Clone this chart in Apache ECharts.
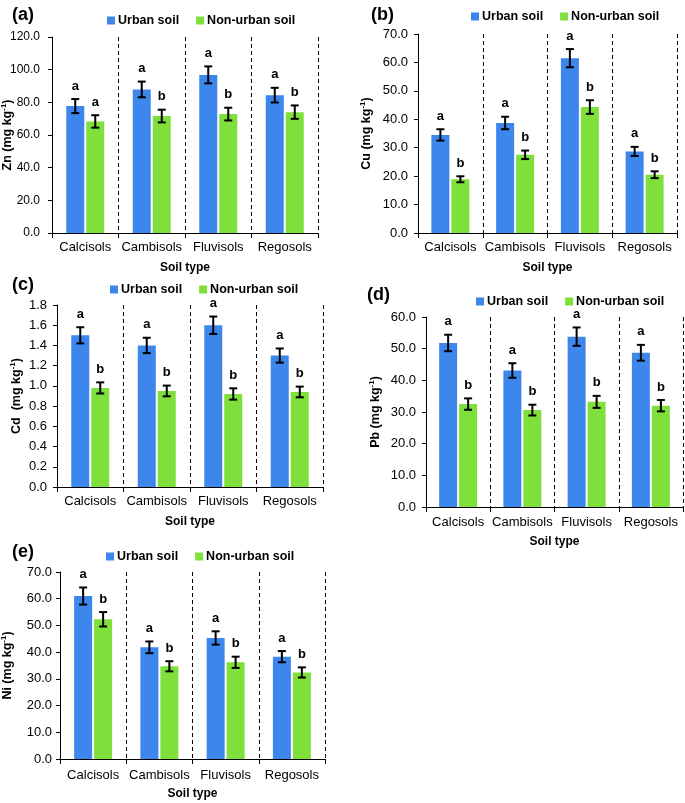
<!DOCTYPE html>
<html>
<head>
<meta charset="utf-8">
<script src="https://cdn.jsdelivr.net/npm/echarts@6/dist/echarts.min.js"></script>
<style>
html,body{margin:0;padding:0;background:#fff;}
#chart{width:685px;height:803px;}
</style>
</head>
<body>
<div id="chart"></div>
<script>
// ---------- data ----------
const categories = ['Calcisols', 'Cambisols', 'Fluvisols', 'Regosols'];
const seriesNames = ['Urban soil', 'Non-urban soil'];

const znUrban = [77.7, 87.9, 96.8, 84.4];
const znUrbanErr = [4.3, 4.8, 5.2, 4.5];
const znNonUrban = [68.3, 71.6, 72.8, 74.0];
const znNonUrbanErr = [3.8, 3.9, 3.9, 4.1];
const znUrbanLetters = ['a', 'a', 'a', 'a'];
const znNonUrbanLetters = ['a', 'b', 'b', 'b'];

const cuUrban = [34.5, 38.7, 61.5, 28.7];
const cuUrbanErr = [2.0, 2.2, 3.2, 1.6];
const cuNonUrban = [18.9, 27.5, 44.3, 20.5];
const cuNonUrbanErr = [1.05, 1.5, 2.4, 1.2];
const cuUrbanLetters = ['a', 'a', 'a', 'a'];
const cuNonUrbanLetters = ['b', 'b', 'b', 'b'];

const cdUrban = [1.50, 1.40, 1.60, 1.30];
const cdUrbanErr = [0.08, 0.076, 0.086, 0.07];
const cdNonUrban = [0.98, 0.95, 0.92, 0.94];
const cdNonUrbanErr = [0.055, 0.053, 0.056, 0.053];
const cdUrbanLetters = ['a', 'a', 'a', 'a'];
const cdNonUrbanLetters = ['b', 'b', 'b', 'b'];

const pbUrban = [51.8, 43.1, 53.8, 48.7];
const pbUrbanErr = [2.6, 2.3, 2.9, 2.5];
const pbNonUrban = [32.5, 30.6, 33.2, 32.0];
const pbNonUrbanErr = [1.8, 1.7, 1.9, 1.8];
const pbUrbanLetters = ['a', 'a', 'a', 'a'];
const pbNonUrbanLetters = ['b', 'b', 'b', 'b'];

const niUrban = [61.0, 41.8, 45.3, 38.3];
const niUrbanErr = [3.2, 2.2, 2.5, 2.1];
const niNonUrban = [52.3, 34.7, 36.2, 32.4];
const niNonUrbanErr = [2.7, 1.9, 2.1, 1.9];
const niUrbanLetters = ['a', 'a', 'a', 'a'];
const niNonUrbanLetters = ['b', 'b', 'b', 'b'];

const panelLabels = ['(a)', '(b)', '(c)', '(d)', '(e)'];
const yNames = ['Zn (mg kg', 'Cu (mg kg', 'Cd  (mg kg', 'Pb (mg kg', 'Ni (mg kg'];
const yMax = [120, 70, 1.8, 60, 70];
const yInterval = [20, 10, 0.2, 10, 10];
const xAxisTitle = 'Soil type';

// ---------- layout ----------
const FONT = '"Liberation Sans", Arial, sans-serif';
const BLUE = '#3D86EC';
const GREEN = '#7FE03B';
const BAR_W = 18;
const BAR_OFF = 10;

const panels = [
  {u: znUrban, ue: znUrbanErr, n: znNonUrban, ne: znNonUrbanErr, ul: znUrbanLetters, nl: znNonUrbanLetters,
   grid: {left: 52, top: 37, width: 266, height: 196}, title: {left: 12, top: 6}, legend: {left: 107, top: 14},
   nameGap: 37, xMargin: 8, yFont: 12, yMargin: 12},
  {u: cuUrban, ue: cuUrbanErr, n: cuNonUrban, ne: cuNonUrbanErr, ul: cuUrbanLetters, nl: cuNonUrbanLetters,
   grid: {left: 418, top: 34, width: 259, height: 199}, title: {left: 371, top: 6}, legend: {left: 471, top: 10},
   nameGap: 44, xMargin: 8, yFont: 13, yMargin: 10},
  {u: cdUrban, ue: cdUrbanErr, n: cdNonUrban, ne: cdNonUrbanErr, ul: cdUrbanLetters, nl: cdNonUrbanLetters,
   grid: {left: 57, top: 305, width: 266, height: 182}, title: {left: 12, top: 276}, legend: {left: 110, top: 283},
   nameGap: 33, xMargin: 8, yFont: 13, yMargin: 10},
  {u: pbUrban, ue: pbUrbanErr, n: pbNonUrban, ne: pbNonUrbanErr, ul: pbUrbanLetters, nl: pbNonUrbanLetters,
   grid: {left: 426, top: 317, width: 257, height: 190}, title: {left: 367, top: 286}, legend: {left: 476, top: 295},
   nameGap: 43, xMargin: 9, yFont: 13, yMargin: 10},
  {u: niUrban, ue: niUrbanErr, n: niNonUrban, ne: niNonUrbanErr, ul: niUrbanLetters, nl: niNonUrbanLetters,
   grid: {left: 60, top: 572, width: 265, height: 187}, title: {left: 12, top: 543}, legend: {left: 106, top: 550},
   nameGap: 45, xMargin: 10, yFont: 13, yMargin: 8}
];

function errRender(offset, letters) {
  return function (params, api) {
    const x = api.value(0), v = api.value(1), e = api.value(2);
    const t = api.coord([x, v + e]);
    const b = api.coord([x, v - e]);
    const cx = t[0] + offset;
    const st = {stroke: '#000', lineWidth: 2};
    return {
      type: 'group',
      children: [
        {type: 'line', shape: {x1: cx, y1: t[1], x2: cx, y2: b[1]}, style: st},
        {type: 'line', shape: {x1: cx - 4, y1: t[1], x2: cx + 4, y2: t[1]}, style: st},
        {type: 'line', shape: {x1: cx - 4, y1: b[1], x2: cx + 4, y2: b[1]}, style: st},
        {type: 'text', x: cx, y: t[1] - 13,
         style: {text: letters[params.dataIndex], fontSize: 13, fontWeight: 'bold', fontFamily: FONT,
                 fill: '#000', align: 'center', verticalAlign: 'middle'}}
      ]
    };
  };
}

const option = {
  animation: false,
  backgroundColor: '#fff',
  textStyle: {fontFamily: FONT},
  title: [], legend: [], grid: [], xAxis: [], yAxis: [], series: []
};

panels.forEach((p, i) => {
  option.title.push({text: panelLabels[i], left: p.title.left, top: p.title.top, padding: 0,
    textStyle: {fontSize: 18, fontWeight: 'bold', color: '#000', fontFamily: FONT}});
  option.legend.push({data: seriesNames, left: p.legend.left, top: p.legend.top, padding: 0,
    icon: 'rect', itemWidth: 8, itemHeight: 8, itemGap: 17,
    textStyle: {fontSize: 12.5, fontWeight: 'bold', color: '#000', fontFamily: FONT, padding: [0, 0, 0, -2]}});
  option.grid.push(Object.assign({containLabel: false, outerBoundsMode: 'none'}, p.grid));
  option.xAxis.push({
    type: 'category', gridIndex: i, data: categories, boundaryGap: true,
    name: xAxisTitle, nameLocation: 'middle', nameGap: 29, nameMoveOverlap: false,
    nameTextStyle: {fontSize: 12, fontWeight: 'bold', color: '#000', fontFamily: FONT},
    axisLine: {lineStyle: {color: '#000', width: 1}},
    axisTick: {show: true, length: 5, lineStyle: {color: '#000'}},
    axisLabel: {fontSize: 13, color: '#000', margin: p.xMargin, fontFamily: FONT, interval: 0},
    splitLine: {show: true, lineStyle: {color: '#000', type: [4, 3], width: 1}}
  });
  option.yAxis.push({
    type: 'value', gridIndex: i, min: 0, max: yMax[i], interval: yInterval[i],
    name: '{n|' + yNames[i] + '}{s|-1}{n|)}', nameLocation: 'middle', nameGap: p.nameGap, nameRotate: 90,
    nameMoveOverlap: false,
    nameTextStyle: {rich: {
      n: {fontSize: 12.5, fontWeight: 'bold', color: '#000', fontFamily: FONT, lineHeight: 15},
      s: {fontSize: 8, fontWeight: 'bold', color: '#000', fontFamily: FONT, verticalAlign: 'top', lineHeight: 15}
    }},
    axisLine: {show: true, lineStyle: {color: '#000', width: 1}},
    axisTick: {show: true, length: 4, lineStyle: {color: '#000'}},
    axisLabel: {fontSize: p.yFont, color: '#000', margin: p.yMargin, fontFamily: FONT,
      formatter: v => v.toFixed(1)},
    splitLine: {show: false}
  });
  option.series.push({
    name: seriesNames[0], type: 'bar', xAxisIndex: i, yAxisIndex: i, data: p.u,
    barWidth: BAR_W, barGap: '11%', itemStyle: {color: BLUE}
  });
  option.series.push({
    name: seriesNames[1], type: 'bar', xAxisIndex: i, yAxisIndex: i, data: p.n,
    barWidth: BAR_W, barGap: '11%', itemStyle: {color: GREEN}
  });
  option.series.push({
    type: 'custom', xAxisIndex: i, yAxisIndex: i, z: 5,
    data: p.u.map((v, k) => [k, v, p.ue[k]]),
    encode: {x: 0, y: 1},
    renderItem: errRender(-BAR_OFF, p.ul)
  });
  option.series.push({
    type: 'custom', xAxisIndex: i, yAxisIndex: i, z: 5,
    data: p.n.map((v, k) => [k, v, p.ne[k]]),
    encode: {x: 0, y: 1},
    renderItem: errRender(BAR_OFF, p.nl)
  });
});

const chart = echarts.init(document.getElementById('chart'), null, {renderer: 'canvas'});
chart.setOption(option);
</script>
</body>
</html>
